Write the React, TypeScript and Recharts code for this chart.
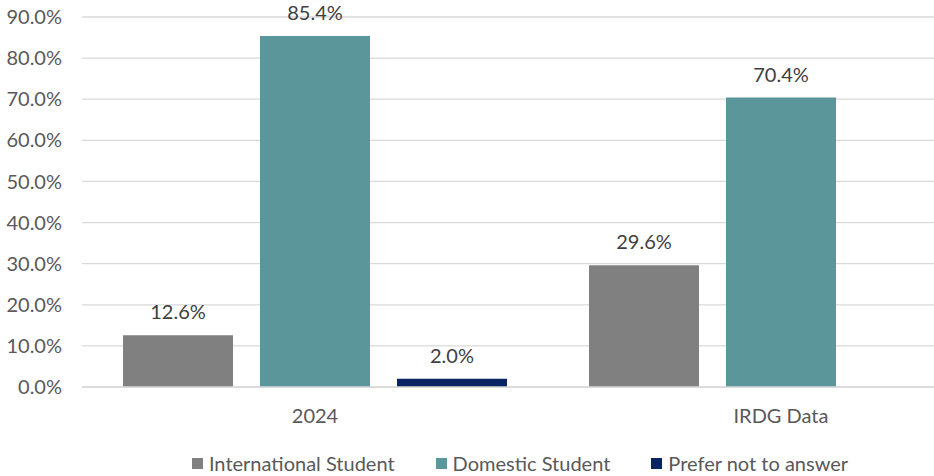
import React from 'react';
import { BarChart, Bar, XAxis, YAxis, CartesianGrid, Legend, LabelList } from 'recharts';

const categories = ['2024', 'IRDG Data'];
const international = [12.6, 29.6];
const domestic = [85.4, 70.4];
const preferNot: (number | null)[] = [2.0, null];
const yTicks = [0, 10, 20, 30, 40, 50, 60, 70, 80, 90];

const series = [
  { key: 'international', name: 'International Student', color: '#808080' },
  { key: 'domestic', name: 'Domestic Student', color: '#5B969B' },
  { key: 'preferNot', name: 'Prefer not to answer', color: '#0A2463' },
];

const data = categories.map((name, i) => ({
  name,
  international: international[i],
  domestic: domestic[i],
  preferNot: preferNot[i],
}));

const FONT = 'Lato, "Open Sans", sans-serif';
const pct = (v: any) => (v == null ? '' : `${Number(v).toFixed(1)}%`);

// legend row, centred on the full chart width
const LegendContent = () => (
  <div
    style={{
      display: 'flex',
      justifyContent: 'center',
      alignItems: 'center',
      gap: 41,
      fontFamily: FONT,
      fontSize: 20,
      color: '#595959',
      width: 1040,
      height: 26,
      paddingTop: 14,
    }}
  >
    {series.map((s) => (
      <div key={s.key} style={{ display: 'flex', alignItems: 'center' }}>
        <span style={{ width: 11, height: 11, background: s.color, marginRight: 6, display: 'inline-block' }} />
        <span>{s.name}</span>
      </div>
    ))}
  </div>
);

export default function App() {
  return (
    <div
      style={{
        position: 'fixed',
        left: 0,
        top: 0,
        width: 934,
        height: 476,
        overflow: 'hidden',
        background: '#fff',
      }}
    >
      <BarChart
        width={1040}
        height={476}
        data={data}
        margin={{ top: 17, right: 26, left: 0, bottom: 0 }}
        barCategoryGap={41}
        barGap={27}
      >
        <CartesianGrid vertical={false} stroke="#d9d9d9" strokeWidth={1.3} />
        <XAxis
          dataKey="name"
          height={49}
          tickLine={false}
          tickSize={0}
          tickMargin={22}
          axisLine={{ stroke: '#d9d9d9', strokeWidth: 1.3 }}
          tick={{ fontFamily: FONT, fontSize: 20, fill: '#595959' }}
        />
        <YAxis
          width={82}
          domain={[0, 90]}
          ticks={yTicks}
          tickFormatter={pct}
          axisLine={false}
          tickLine={false}
          tickSize={0}
          tickMargin={20}
          tick={{ fontFamily: FONT, fontSize: 20, fill: '#595959' }}
        />
        <Legend
          verticalAlign="bottom"
          content={<LegendContent />}
          wrapperStyle={{ height: 40, left: 0, width: 1040 }}
        />
        {series.map((s) => (
          <Bar key={s.key} dataKey={s.key} name={s.name} fill={s.color} isAnimationActive={false}>
            <LabelList
              dataKey={s.key}
              position="top"
              offset={16}
              formatter={pct}
              style={{ fontFamily: FONT, fontSize: 20, fill: '#404040' }}
            />
          </Bar>
        ))}
      </BarChart>
    </div>
  );
}
